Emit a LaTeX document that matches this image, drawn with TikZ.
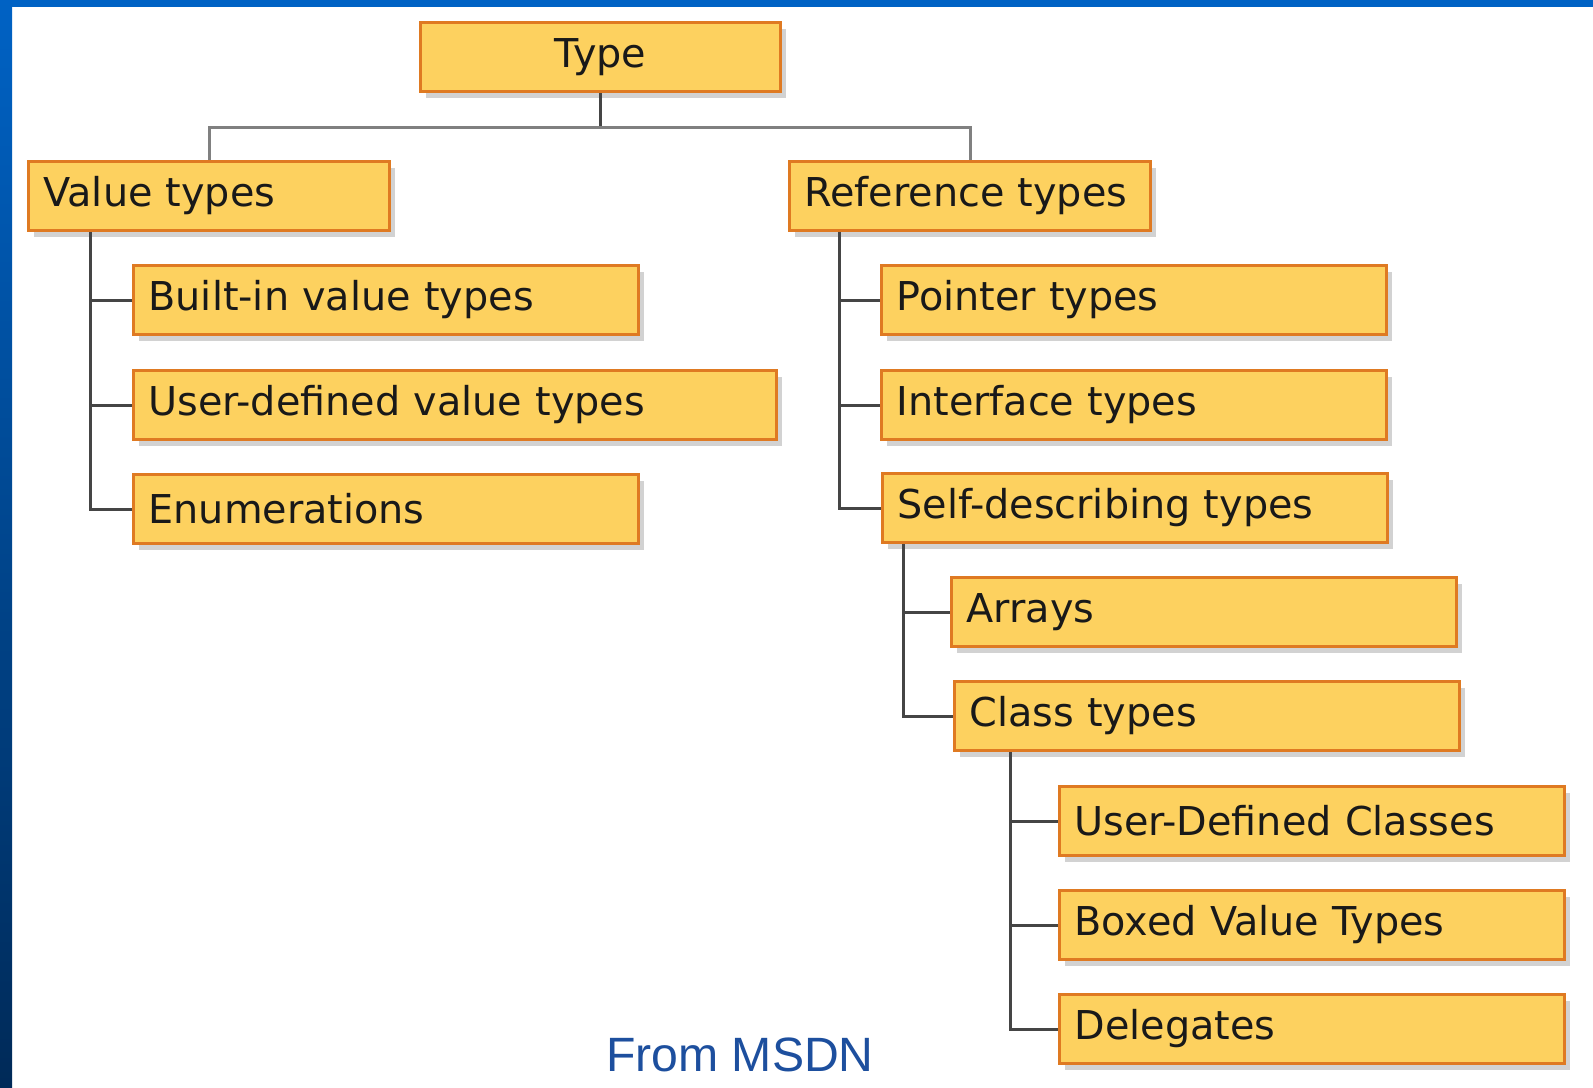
\documentclass[tikz,border=0pt]{standalone}
\usepackage{fontspec}
\setmainfont{DejaVu Sans}
\newfontfamily\msdnfont{Liberation Sans}
\usetikzlibrary{shadows}
\definecolor{boxfill}{HTML}{FDD15F}
\definecolor{boxline}{HTML}{DF7A22}
\definecolor{linkgray}{HTML}{454545}
\definecolor{frameblue}{HTML}{0062C4}
\definecolor{framedark}{HTML}{002A58}
\definecolor{msdnblue}{HTML}{1D4F9E}
\tikzset{
    tbox/.style={rectangle,draw=boxline,fill=boxfill,line width=0.03cm,anchor=north west,
        minimum height=0.69cm,inner xsep=0.15cm,inner ysep=0pt,text width=#1,align=left,
        font=\fontsize{11.3}{13}\selectfont,text=black!90,
        drop shadow={shadow xshift=0.05cm,shadow yshift=-0.06cm,opacity=0.35}},
    tbox/.default=4.75cm,
    link/.style={draw=linkgray,line width=0.03cm}
}
\begin{document}
\begin{tikzpicture}[x=0.01cm,y=-0.01cm]
    \useasboundingbox (0,0) rectangle (1593,1087);
    \fill[white] (0,0) rectangle (1593,1087);
    \fill[frameblue] (0,0) rectangle (1593,7);
    \shade[top color=frameblue,bottom color=framedark] (0,0) rectangle (12,1087);
    \node[tbox=3.3cm,align=center] (a) at (419,21) {Type};
    \node[tbox=3.31cm] (b) at (27,160) {Value types};
    \node[tbox=3.31cm] (c) at (788,160) {Reference types};
    \node[tbox] (b1) at (132,264) {Built-in value types};
    \node[tbox=6.13cm] (b2) at (132,369) {User-defined value types};
    \node[tbox] (b3) at (132,473) {Enumerations};
    \node[tbox] (c1) at (880,264) {Pointer types};
    \node[tbox] (c2) at (880,369) {Interface types};
    \node[tbox] (c3) at (881,472) {Self-describing types};
    \node[tbox] (d1) at (950,576) {Arrays};
    \node[tbox] (d2) at (953,680) {Class types};
    \node[tbox] (e1) at (1058,785) {User-Defined Classes};
    \node[tbox] (e2) at (1058,889) {Boxed Value Types};
    \node[tbox] (e3) at (1058,993) {Delegates};
    \node[font=\msdnfont\fontsize{13.7}{16}\selectfont,text=msdnblue] (src) at (740,1055) {From MSDN};
    \coordinate (split) at ([yshift=-0.34cm]a.south);
    \coordinate (bt) at ([xshift=0.63cm]b.south west);
    \coordinate (ct) at ([xshift=0.51cm]c.south west);
    \coordinate (dt) at ([xshift=0.22cm]c3.south west);
    \coordinate (et) at ([xshift=0.57cm]d2.south west);
    \draw[link] (a.south) -- (split);
    \draw[link,draw=gray] (b.north) |- (split) -| (c.north);
    \foreach \n in {b1,b2,b3} \draw[link] (bt) |- (\n.west);
    \foreach \n in {c1,c2,c3} \draw[link] (ct) |- (\n.west);
    \foreach \n in {d1,d2} \draw[link] (dt) |- (\n.west);
    \foreach \n in {e1,e2,e3} \draw[link] (et) |- (\n.west);
\end{tikzpicture}
\end{document}
